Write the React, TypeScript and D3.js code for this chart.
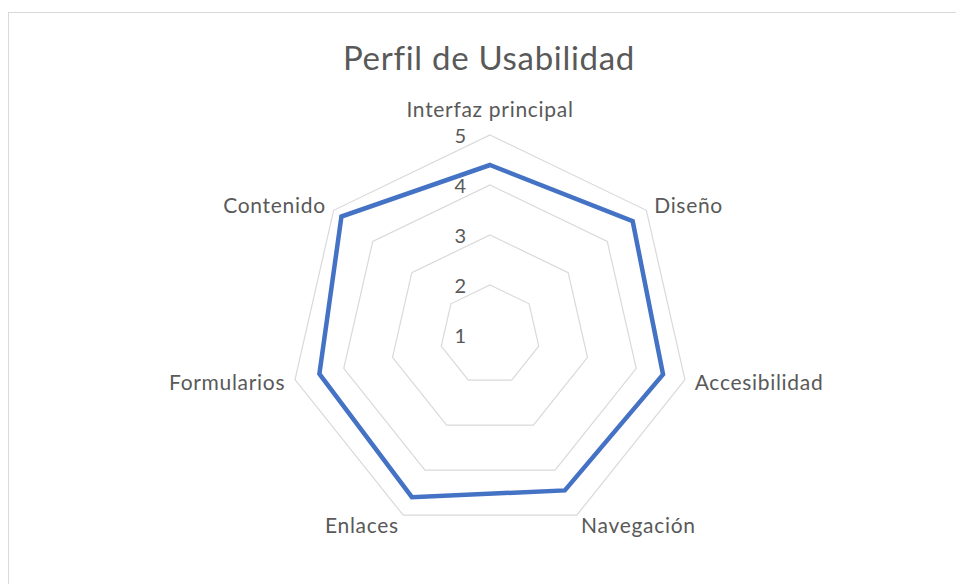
import React from "react";
import * as d3 from "d3";

const categories = [
  "Interfaz principal",
  "Diseño",
  "Accesibilidad",
  "Navegación",
  "Enlaces",
  "Formularios",
  "Contenido",
];
const values = [4.4, 4.65, 4.55, 4.45, 4.6, 4.5, 4.8];
const tickValues = [1, 2, 3, 4, 5];
const title = "Perfil de Usabilidad";

const W = 956;
const H = 584;
const cx = 490;
const cy = 335;
const FONT = "Lato, 'Open Sans', sans-serif";
const TEXT = "#595959";

export default function App() {
  const r = d3.scaleLinear().domain([1, 5]).range([0, 200]);
  const angle = d3
    .scaleLinear()
    .domain([0, categories.length])
    .range([0, 2 * Math.PI]);

  const radial = d3
    .lineRadial<number>()
    .angle((_, i) => angle(i))
    .radius((d) => r(d))
    .curve(d3.curveLinearClosed);

  const ring = (v: number) => radial(categories.map(() => v)) as string;

  const pt = (i: number, rad: number) => {
    const a = angle(i);
    return [cx + rad * Math.sin(a), cy - rad * Math.cos(a)];
  };

  return (
    <svg
      width={W}
      height={H}
      style={{ position: "absolute", left: 0, top: 0, background: "#fff" }}
    >
      <rect
        x={8.5}
        y={12.5}
        width={W + 20}
        height={H + 20}
        fill="#fff"
        stroke="#d9d9d9"
        strokeWidth={1}
      />
      <text
        x={489}
        y={70}
        textAnchor="middle"
        fontFamily={FONT}
        fontSize={33}
        letterSpacing={0.7}
        fill={TEXT}
      >
        {title}
      </text>
      <g transform={`translate(${cx},${cy})`}>
        {tickValues.slice(1).map((v) => (
          <path
            key={v}
            d={ring(v)}
            fill="none"
            stroke="#d9d9d9"
            strokeWidth={1.2}
          />
        ))}
        <path
          d={radial(values) as string}
          fill="none"
          stroke="#4472C4"
          strokeWidth={4.5}
          strokeLinejoin="miter"
        />
      </g>
      {tickValues.map((v) => (
        <text
          key={v}
          x={cx - 24}
          y={cy - r(v)}
          textAnchor="end"
          dominantBaseline="central"
          fontFamily={FONT}
          fontSize={20}
          fill={TEXT}
        >
          {v}
        </text>
      ))}
      {categories.map((c, i) => {
        const a = angle(i);
        const s = Math.sin(a);
        const [x, y] = pt(i, r(5) + 10);
        const anchor = s > 0.1 ? "start" : s < -0.1 ? "end" : "middle";
        const yy = Math.abs(s) < 0.1 ? y - 17 : y;
        return (
          <text
            key={c}
            x={x}
            y={yy}
            textAnchor={anchor}
            dominantBaseline="central"
            fontFamily={FONT}
            fontSize={21}
            letterSpacing={0.7}
            fill={TEXT}
          >
            {c}
          </text>
        );
      })}
    </svg>
  );
}
